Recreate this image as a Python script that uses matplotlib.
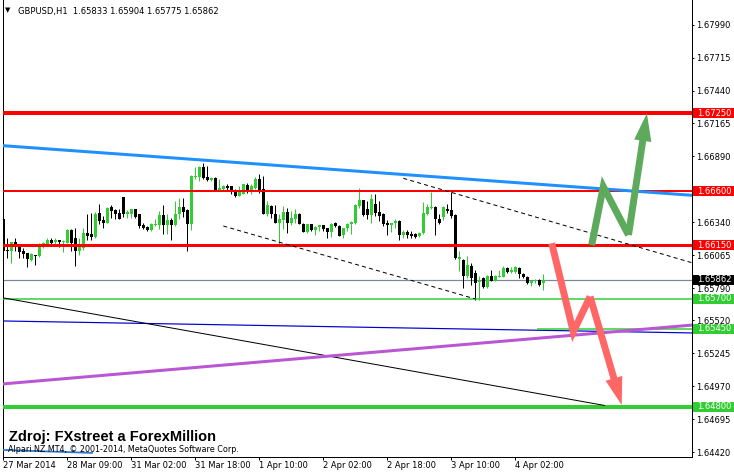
import matplotlib
matplotlib.use("Agg")
import matplotlib.pyplot as plt
import matplotlib.transforms as mtransforms
from matplotlib.patches import Rectangle, FancyArrowPatch, ArrowStyle
import numpy as np

plt.rcParams['lines.scale_dashes'] = False

# ---------------- data (prices in 1e-5 units) ----------------
opens = [166364,166104,166098,166177,166140,166104,166084,166028,166070,166056,
         166154,166160,166188,166174,166188,166177,166168,166272,166210,166104,
         166126,166252,166238,166216,166420,166356,166336,166471,166440,166420,
         166555,166406,166412,166454,166406,166317,166300,166272,166314,166317,
         166398,166317,166356,166317,166406,166468,166440,166322,166720,166720,
         166804,166720,166692,166709,166602,166616,166639,166644,166602,166560,
         166580,166653,166608,166630,166700,166616,166412,166476,166412,166336,
         166356,166429,166336,166364,166412,166328,166258,166322,166272,166300,
         166314,166289,166258,166331,166308,166230,166289,166322,166336,166476,
         166524,166448,166398,166490,166426,166406,166336,166314,166336,166350,
         166230,166258,166244,166238,166224,166247,166412,166462,166468,166364,
         166384,166454,166440,166398,166036,166028,165888,165972,165916,165838,
         165874,165796,165888,165852,165882,165882,165960,165927,165927,165960,
         165910,165882,165832,165846,165860,165833]
highs = [166462,166210,166177,166210,166140,166126,166084,166084,166070,166168,
         166177,166210,166210,166205,166188,166188,166280,166280,166294,166205,
         166294,166406,166420,166429,166496,166392,166468,166482,166448,166448,
         166555,166440,166454,166454,166406,166331,166308,166331,166364,166434,
         166482,166412,166378,166518,166546,166546,166448,166737,166798,166812,
         166832,166812,166720,166714,166700,166653,166658,166644,166616,166644,
         166658,166664,166658,166720,166742,166728,166518,166485,166485,166406,
         166476,166462,166434,166448,166420,166336,166328,166328,166308,166317,
         166317,166294,166331,166342,166317,166294,166336,166350,166496,166630,
         166524,166518,166580,166580,166518,166420,166356,166336,166364,166356,
         166272,166272,166266,166252,166258,166510,166496,166594,166476,166406,
         166476,166496,166594,166406,166098,166036,166056,166000,165944,165888,
         165880,165896,165944,165902,165944,165972,165966,165966,165972,165966,
         165916,165888,165860,165868,165868,165904]
lows = [166098,166042,165997,166098,166042,166042,165964,166020,165986,166048,
        166126,166154,166140,166154,166135,166090,166168,166104,165972,166070,
        166112,166196,166196,166210,166322,166289,166336,166378,166364,166364,
        166384,166378,166378,166378,166294,166280,166266,166266,166308,166280,
        166238,166244,166196,166308,166364,166384,166098,166272,166700,166686,
        166700,166681,166686,166608,166602,166602,166602,166574,166552,166560,
        166574,166588,166580,166616,166588,166412,166392,166378,166336,166160,
        166280,166247,166317,166336,166322,166258,166252,166266,166233,166266,
        166266,166210,166216,166300,166224,166210,166266,166244,166322,166462,
        166392,166364,166336,166392,166350,166308,166230,166262,166294,166196,
        166210,166210,166205,166205,166216,166238,166400,166454,166233,166322,
        166356,166420,166378,166036,165930,165790,165874,165818,165692,165692,
        165790,165790,165846,165846,165880,165880,165918,165918,165918,165874,
        165874,165824,165804,165832,165812,165775]
closes = [166098,166100,166177,166140,166090,166076,166034,166076,166056,166160,
          166168,166196,166168,166188,166174,166182,166272,166168,166104,166132,
          166252,166224,166216,166412,166350,166331,166462,166434,166412,166364,
          166406,166426,166454,166384,166308,166294,166272,166322,166322,166398,
          166317,166359,166317,166412,166468,166429,166322,166728,166728,166804,
          166709,166692,166709,166608,166625,166644,166630,166602,166560,166602,
          166658,166608,166644,166700,166608,166412,166485,166412,166336,166364,
          166429,166336,166378,166412,166322,166258,166322,166272,166300,166314,
          166280,166258,166328,166308,166224,166289,166328,166342,166485,166524,
          166398,166398,166532,166420,166392,166322,166314,166336,166350,166230,
          166258,166230,166224,166216,166252,166420,166471,166468,166364,166336,
          166468,166434,166392,166042,166048,165888,165986,165874,165832,165850,
          165796,165888,165852,165888,165888,165960,165927,165944,165966,165910,
          165882,165832,165852,165860,165818,165862]

xtick_bars = [0, 16, 32, 48, 64, 80, 96, 112, 128]
xtick_labels = ["27 Mar 2014", "28 Mar 09:00", "31 Mar 02:00", "31 Mar 18:00",
                "1 Apr 10:00", "2 Apr 02:00", "2 Apr 18:00", "3 Apr 10:00", "4 Apr 02:00"]
ytick_labels = ["1.67990", "1.67715", "1.67440", "1.67165", "1.66890", "1.66615",
                "1.66340", "1.66065", "1.65790", "1.65520", "1.65245", "1.64970",
                "1.64695", "1.64420"]

# horizontal levels: price, colour, width(px), starting bar
level_prices = [1.67250, 1.66600, 1.66150, 1.65700, 1.65450, 1.64800]
level_colors = ["#FF0000", "#FF0000", "#FF0000", "#32CD32", "#32CD32", "#32CD32"]
level_widths = [4, 2, 3, 1.5, 1.5, 4]
level_start = [-1, -1, -1, -1, 133.5, -1]
bid_price = 1.65862

# trend lines: (bar0, price0, bar1, price1)
blue_trend = (-0.2, 1.66980, 172.3, 1.66565)
purple_trend = (-0.2, 1.64990, 172.3, 1.65482)
navy_trend = (-0.2, 1.65516, 172.3, 1.65416)
black_trend = (-0.2, 1.65710, 150.4, 1.64810)
bottom_blue = (-0.2, 1.64439, 22.4, 1.64414)
upper_dash = (100.0, 1.66707, 172.3, 1.66001)
lower_dash = (55.0, 1.66309, 118.0, 1.65700)

green_arrow_x = [147.1, 150.0, 156.3, 160.9]
green_arrow_y = [1.66150, 1.66637, 1.66234, 1.67250]
red_arrow_x = [137.1, 142.5, 146.7, 154.6]
red_arrow_y = [1.66165, 1.65426, 1.65719, 1.64814]

# ---------------- figure ----------------
W, H = 734, 475
fig = plt.figure(figsize=(W / 100, H / 100), dpi=100)
ax_left, ax_right, ax_top, ax_bot = 3, 692, 0, 456.7
ax = fig.add_axes([ax_left / W, (H - ax_bot) / H, (ax_right - ax_left) / W, (ax_bot - ax_top) / H])
ax.set_facecolor("white")
px = 0.72  # one pixel in points

o = np.array(opens) / 1e5
h = np.array(highs) / 1e5
l = np.array(lows) / 1e5
c = np.array(closes) / 1e5
x = np.arange(len(o))
bull = c >= o
cols = np.where(bull, "#32CD32", "#000000")

xmin, xmax = -0.075, 172.175
ymin, ymax = 1.643826, 1.681961
onepx = (ymax - ymin) / (ax_bot - ax_top)

ax.axhline(bid_price, color="#778899", lw=1.2 * px, zorder=1.5)

ax.vlines(x, l, h, colors=cols, lw=1 * px, zorder=3)
body_bottom = np.minimum(o, c)
body_h = np.maximum(np.abs(c - o), onepx)
ax.bar(x, body_h, bottom=body_bottom, width=0.75, color=cols, linewidth=0, zorder=3.1)

for p, col, w, s in zip(level_prices, level_colors, level_widths, level_start):
    ax.plot([s, xmax + 1], [p, p], color=col, lw=w * px, solid_capstyle="butt", zorder=4)

def tline(t, color, lw, **kw):
    ax.plot([t[0], t[2]], [t[1], t[3]], color=color, lw=lw * px, solid_capstyle="butt", **kw)

tline(blue_trend, "#1E90FF", 3, zorder=4.2)
tline(purple_trend, "#BA55D3", 3, zorder=4.1)
tline(navy_trend, "#0000CD", 1.2, zorder=3.9)
tline(black_trend, "#000000", 1, zorder=4.05)
tline(bottom_blue, "#2A78DC", 1.8, zorder=4.0)
tline(upper_dash, "#000000", 1, zorder=4.3, linestyle=(0, (2.9, 2.3)))
tline(lower_dash, "#000000", 1, zorder=4.3, linestyle=(0, (2.9, 2.3)))

# arrows
def zigzag(xs, ys, color):
    ax.plot(xs[:3], ys[:3], color=color, lw=7 * px, solid_joinstyle="miter",
            solid_capstyle="butt", zorder=6)
    arr = FancyArrowPatch((xs[2], ys[2]), (xs[3], ys[3]),
                          arrowstyle=ArrowStyle.Simple(head_length=2.0, head_width=1.25, tail_width=0.5),
                          mutation_scale=10, color=color, shrinkA=0, shrinkB=0, zorder=6, lw=0)
    ax.add_patch(arr)

zigzag(green_arrow_x, green_arrow_y, "#5DAA5D")
zigzag(red_arrow_x, red_arrow_y, "#FF6666")

ax.set_xlim(xmin, xmax)
ax.set_ylim(ymin, ymax)

# axes styling
for s in ax.spines.values():
    s.set_linewidth(1 * px)
    s.set_color("black")
ax.spines["top"].set_visible(False)

ax.yaxis.tick_right()
ax.set_yticks([float(t) for t in ytick_labels])
ax.set_yticklabels(ytick_labels, fontsize=6, family="DejaVu Sans")
ax.tick_params(axis="y", length=2.5 * px, width=px, pad=1.5, direction="out")

ax.set_xticks(xtick_bars)
ax.set_xticklabels(xtick_labels, fontsize=6, family="DejaVu Sans", ha="left")
ax.tick_params(axis="x", length=3 * px, width=px, pad=0.6, direction="out")

# price label boxes on the right
bt = mtransforms.blended_transform_factory(ax.transAxes, ax.transData)
box_w = (734 - 692.5) / (ax_right - ax_left)
box_h = 10 * onepx
lab_prices = [1.67250, 1.66600, 1.66150, 1.65862, 1.65700, 1.65450, 1.64800]
lab_colors = ["#FF0000", "#FF0000", "#FF0000", "#000000", "#32CD32", "#32CD32", "#32CD32"]
for p, col in zip(lab_prices, lab_colors):
    r = Rectangle((1.0 + 0.5 / (ax_right - ax_left), p - box_h / 2), box_w, box_h,
                  transform=bt, facecolor=col, edgecolor="none", clip_on=False, zorder=8)
    ax.add_patch(r)
    ax.text(1.0 + 5 / (ax_right - ax_left), p, f"{p:.5f}", transform=bt, color="white",
            fontsize=6, family="DejaVu Sans", va="center", ha="left", zorder=9, clip_on=False)

# header and texts
fig.text(5 / W, 1 - 10.5 / H, "\u25BC", fontsize=5, family="DejaVu Sans", va="center", ha="left")
fig.text(18 / W, 1 - 14 / H, "GBPUSD,H1  1.65833 1.65904 1.65775 1.65862",
         fontsize=6, family="DejaVu Sans", va="baseline", ha="left")
fig.text(9 / W, 1 - 440.7 / H, "Zdroj: FXstreet a ForexMillion", fontsize=10.5,
         family="Liberation Sans", weight="bold", va="baseline", ha="left")
fig.text(8 / W, 1 - 452 / H, "Alpari NZ MT4, \u00A9 2001-2014, MetaQuotes Software Corp.",
         fontsize=5.8, family="DejaVu Sans", va="baseline", ha="left", zorder=10)

fig.savefig("out.png", dpi=100)
